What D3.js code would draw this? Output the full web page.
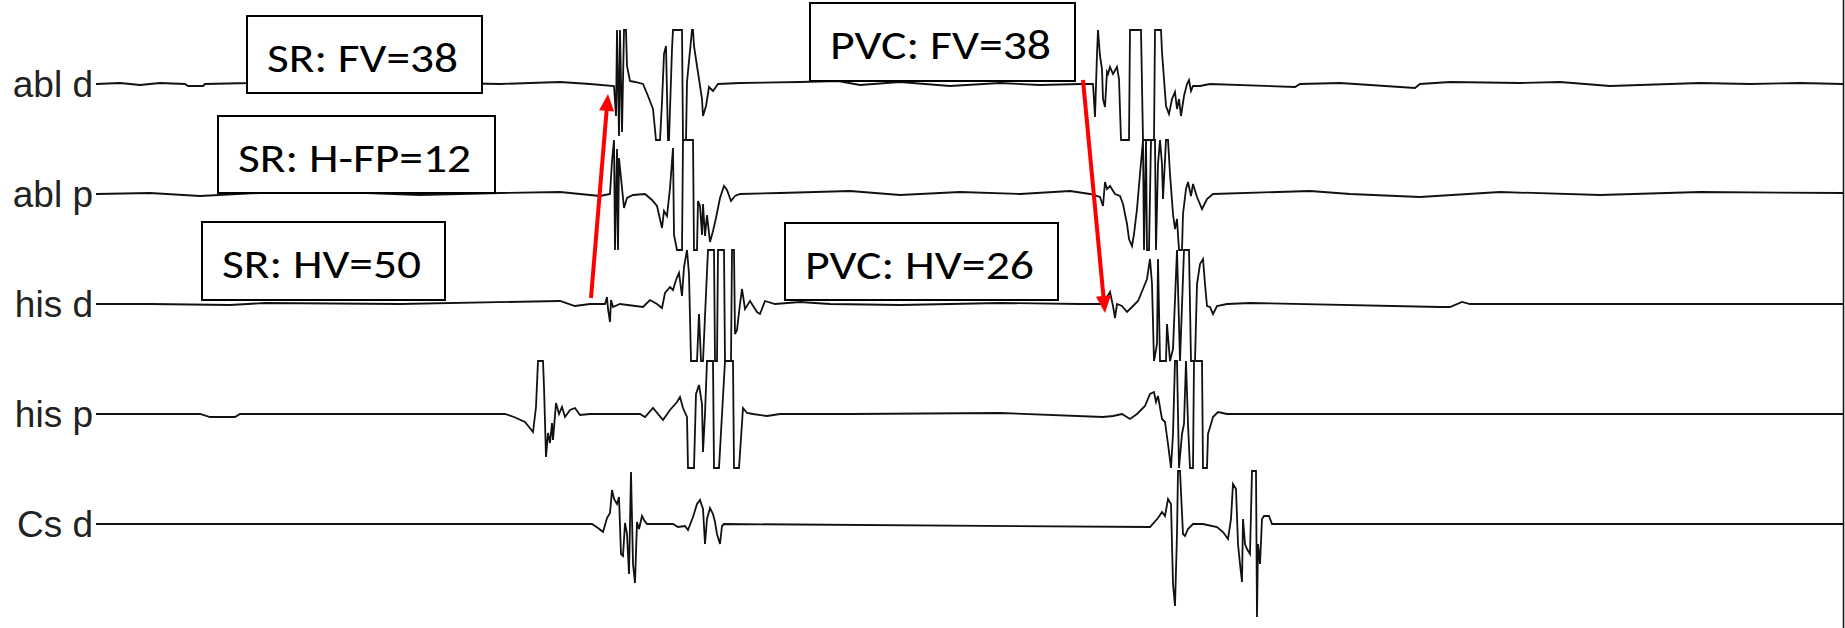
<!DOCTYPE html>
<html>
<head>
<meta charset="utf-8">
<script src="https://cdn.jsdelivr.net/npm/d3@7"></script>
<style>
body{margin:0;background:#fff;}
</style>
</head>
<body>
<svg width="1845" height="628"></svg>
<script>
// channels, top to bottom
var channels=["abl d","abl p","his d","his p","Cs d"];

// traces: [time ms, deflection]
var ablD=[[1,0],[25,1],[45,-1],[65,1],[90,0],[93,-2],[108,-2],[110,0],[155,1],[222,4],[225,-1],[285,1],[305,-2],[355,1],[405,0],[465,2],[495,0],[519,-2],
[521,-32],[522,54],[524,-52],[525,54],[527,-48],[529,54],[531,54],[532,18],[535,3],[540,2],[548,0],[553,-12],[558,-25],[561,-56],[565,-56],[567,-18],[569,30],[571,38],[573,-56],[574,-56],[577,35],[578,54],[587,54],[588,-56],[591,-56],[592,2],[597,54],[598,54],[599,38],[602,18],[604,5],[607,-15],[608,-32],[611,-22],[614,-3],[618,-7],[623,0],
[645,1],[705,2],[743,3],[765,-1],[805,2],[855,-2],[905,1],[945,-1],[985,0],[998,0],
[1000,-33],[1002,30],[1003,54],[1005,28],[1007,15],[1008,-15],[1010,-23],[1012,12],[1013,10],[1015,17],[1018,10],[1022,17],[1024,5],[1026,-56],[1034,-56],[1035,54],[1046,54],[1048,-56],[1059,-56],[1060,54],[1066,54],[1067,32],[1069,5],[1071,-22],[1074,-30],[1077,-15],[1080,-8],[1082,-25],[1084,-15],[1086,-32],[1089,-12],[1092,0],[1094,4],[1096,-7],[1098,-2],[1105,-2],[1115,0],
[1200,-3],[1205,0],[1245,1],[1320,-4],[1325,0],[1355,2],[1425,1],[1465,2],[1515,-2],[1605,1],[1655,0],[1705,1],[1748,0]];

var ablP=[[1,0],[55,1],[105,-2],[165,1],[245,2],[325,-1],[405,1],[465,2],[505,-2],[515,0],
[517,33],[519,54],[520,-56],[522,45],[523,-56],[524,36],[527,6],[529,-14],[532,-4],[538,-1],[550,0],[557,-6],[562,-12],[567,-34],[569,-17],[572,-22],[575,6],[578,46],[579,-41],[582,-56],[587,-56],[588,54],[598,54],[599,-56],[602,-56],[603,-7],[605,-12],[607,-41],[608,-10],[610,-42],[612,-21],[615,-48],[618,-37],[621,-24],[625,-4],[629,8],[632,4],[636,-7],[640,-2],[645,0],
[685,1],[755,3],[805,-1],[865,2],[925,0],[975,3],[995,0],
[1005,-3],[1008,-12],[1010,12],[1012,5],[1015,8],[1020,0],[1025,-2],[1028,-10],[1032,-30],[1034,-45],[1037,-52],[1039,-40],[1042,-15],[1045,20],[1048,54],[1049,-56],[1051,54],[1052,-56],[1054,-56],[1056,54],[1060,54],[1061,-56],[1063,30],[1065,54],[1067,30],[1068,-5],[1071,54],[1073,54],[1075,20],[1078,-20],[1080,-35],[1082,-25],[1084,-56],[1087,-56],[1088,-20],[1091,5],[1093,12],[1096,-2],[1098,10],[1102,-3],[1107,-15],[1112,-5],[1118,0],
[1215,3],[1255,0],[1325,-3],[1405,2],[1505,-1],[1605,2],[1748,1]];

var hisD=[[1,0],[55,0],[135,-1],[170,1],[305,0],[465,3],[480,-2],[495,0],[510,0],
[512,7],[513,-5],[515,-18],[516,4],[518,-3],[525,0],[548,-3],[555,4],[562,0],[567,-4],[570,11],[575,17],[578,14],[581,24],[584,31],[587,8],[589,37],[592,54],[594,30],[596,-57],[602,-57],[604,-10],[606,-57],[608,-57],[611,10],[613,54],[619,54],[620,-57],[622,-57],[623,54],[629,54],[630,-57],[636,-57],[637,54],[639,54],[640,-30],[642,-26],[645,0],[647,15],[650,-5],[655,3],[662,-8],[665,-10],[670,3],[680,0],
[705,2],[735,0],[805,-1],[905,1],[985,0],[1008,0],
[1015,12],[1018,-2],[1020,-14],[1022,0],[1027,-2],[1032,-8],[1037,-3],[1043,3],[1048,15],[1052,25],[1055,45],[1057,20],[1059,-57],[1062,-40],[1063,45],[1065,-57],[1071,-57],[1072,-20],[1075,-57],[1078,-45],[1082,54],[1085,-57],[1089,54],[1094,54],[1096,-57],[1100,-57],[1102,20],[1105,40],[1108,45],[1110,20],[1112,-2],[1115,-3],[1118,-10],[1122,-2],[1132,0],
[1155,1],[1345,-3],[1355,-3],[1367,2],[1375,0],[1748,0]];

var hisP=[[1,0],[105,0],[115,-3],[140,-3],[145,0],[305,0],[385,0],[410,0],[419,-3],[430,-8],[438,-18],[441,7],[443,53],[448,53],[449,27],[451,-43],[453,-19],[455,-29],[457,-9],[458,-26],[461,11],[464,0],[467,7],[470,-3],[475,4],[480,6],[485,-1],[495,0],
[545,0],[550,-3],[558,6],[568,-6],[575,4],[582,12],[585,17],[588,6],[592,-3],[593,-54],[599,-54],[601,20],[604,29],[607,10],[608,-38],[610,0],[612,53],[618,53],[619,-54],[624,-54],[630,53],[638,53],[639,-54],[644,-54],[648,6],[652,1],[658,0],[672,-2],[685,0],
[755,0],[905,1],[1008,-3],[1018,-2],[1027,0],[1035,-5],[1042,0],[1050,8],[1055,20],[1059,22],[1061,12],[1063,18],[1067,-5],[1070,-8],[1073,-30],[1076,-54],[1078,-20],[1080,53],[1082,53],[1084,-54],[1087,-20],[1089,-10],[1091,53],[1093,-10],[1095,-54],[1098,-54],[1099,53],[1107,53],[1108,-54],[1112,-54],[1113,-20],[1116,-10],[1118,-3],[1123,2],[1132,0],[1748,0]];

var csD=[[1,0],[497,0],[503,-4],[508,-8],[512,6],[515,11],[517,34],[519,25],[522,20],[524,27],[526,-30],[528,-32],[530,1],[532,-10],[534,-50],[536,52],[538,-40],[540,-59],[542,2],[544,-5],[547,8],[549,4],[552,0],[578,0],[583,-3],[590,-2],[593,-6],[598,7],[602,20],[605,24],[608,15],[610,-20],[612,5],[615,16],[618,10],[620,2],[622,-10],[625,-20],[627,-2],[629,0],
[1055,-3],[1063,6],[1067,12],[1070,8],[1073,25],[1076,20],[1078,-60],[1080,-82],[1082,-10],[1083,53],[1085,53],[1088,-10],[1090,-12],[1093,-5],[1098,0],[1108,0],[1122,-3],[1128,-8],[1133,-15],[1136,5],[1138,40],[1141,35],[1143,-20],[1145,-40],[1147,-58],[1148,5],[1150,-20],[1152,-25],[1155,-30],[1157,53],[1161,53],[1162,-93],[1163,-20],[1165,-40],[1167,5],[1169,8],[1174,8],[1177,0],[1748,0]];

var traces=[ablD,ablP,hisD,hisP,csD];

// interval annotations
var boxTexts=["SR: FV=38","SR: H-FP=12","SR: HV=50","PVC: FV=38","PVC: HV=26"];
var boxChannel=["abl d","abl p","his d","abl d","his d"];
var boxStart=[152,123,107,715,690];
var boxEnd=[387,400,350,980,963];
var boxTop=[68,78,82,81,81];
var boxBottom=[-9,1,4,3,4];

// red arrows: [time, channel, deflection]
var arrowFrom=[[496,"his d",6],[988,"abl d",4]];
var arrowTo=[[513,"abl d",-10],[1010,"his d",-9]];

var svg=d3.select('svg');
var x=d3.scaleLinear().domain([0,1748]).range([95,1843]);
var band=d3.scaleBand().domain(channels).range([29,579]);

// amplifier clipping per channel
var clipLow=[-56,-56,-57,-56,-100];
var clipHigh=[54,54,54,53,53];

function yScale(ch){
    var c=band(ch)+band.bandwidth()/2;
    return d3.scaleLinear().domain([-55,55]).range([c+55,c-55]);
}

function drawTraces(){
    traces.forEach(function(tr,k){
        var base=yScale(channels[k]);
        var y=d3.scaleLinear().domain([clipLow[k],clipHigh[k]])
            .range([base(clipLow[k]),base(clipHigh[k])]).clamp(true);
        var line=d3.line().x(function(d){return x(d[0]);}).y(function(d){return y(d[1]);});
        svg.append('path')
        .attr('d',line(tr))
        .attr('fill','none')
        .attr('stroke','#111')
        .attr('stroke-width',1.8)
        .attr('stroke-linejoin','miter');

        svg.append('text')
        .attr('x',93)
        .attr('y',base(0)+13)
        .attr('text-anchor','end')
        .style('font-family','"Liberation Sans", Arial, sans-serif')
        .style('font-size','37px')
        .style('fill','#222')
        .text(channels[k]);
    });

    // right edge of the sweep
    svg.append('line')
    .attr('x1',1843.5).attr('x2',1843.5)
    .attr('y1',0).attr('y2',628)
    .attr('stroke','#111')
    .attr('stroke-width',1.5);
}

function drawBoxes(){
    for(var k=0;k<boxTexts.length;k++){
        var ys=yScale(boxChannel[k]);
        var bx0=x(boxStart[k]), bx1=x(boxEnd[k]);
        var by0=ys(boxTop[k]), by1=ys(boxBottom[k]);
        svg.append('rect')
        .attr('x',bx0).attr('y',by0)
        .attr('width',bx1-bx0).attr('height',by1-by0)
        .attr('fill','#fff')
        .attr('stroke','#000')
        .attr('stroke-width',2);

        svg.append('text')
        .attr('x',bx0+20)
        .attr('y',by0+55.5)
        .attr('textLength',bx1-bx0-44)
        .attr('lengthAdjust','spacingAndGlyphs')
        .style('font-family','Carlito, Calibri, Lato, "Open Sans", sans-serif')
        .style('font-size','42px')
        .style('fill','#000')
        .text(boxTexts[k]);
    }
}

function drawArrow(from,to){
    var x1=x(from[0]), y1=yScale(from[1])(from[2]);
    var x2=x(to[0]), y2=yScale(to[1])(to[2]);
    var dx=x2-x1, dy=y2-y1, len=Math.sqrt(dx*dx+dy*dy);
    var ux=dx/len, uy=dy/len;
    var headLen=17, headHalf=7.5;
    var hx=x2-ux*headLen, hy=y2-uy*headLen;
    svg.append('line')
    .attr('x1',x1).attr('y1',y1)
    .attr('x2',x2-ux*(headLen-3)).attr('y2',y2-uy*(headLen-3))
    .attr('stroke','#ff0000')
    .attr('stroke-width',4);
    svg.append('polygon')
    .attr('points',[[x2,y2],[hx-uy*headHalf,hy+ux*headHalf],[hx+uy*headHalf,hy-ux*headHalf]].join(' '))
    .attr('fill','#ff0000');
}

drawTraces();
drawBoxes();
for(var k=0;k<arrowFrom.length;k++){
    drawArrow(arrowFrom[k],arrowTo[k]);
}
</script>
</body>
</html>
